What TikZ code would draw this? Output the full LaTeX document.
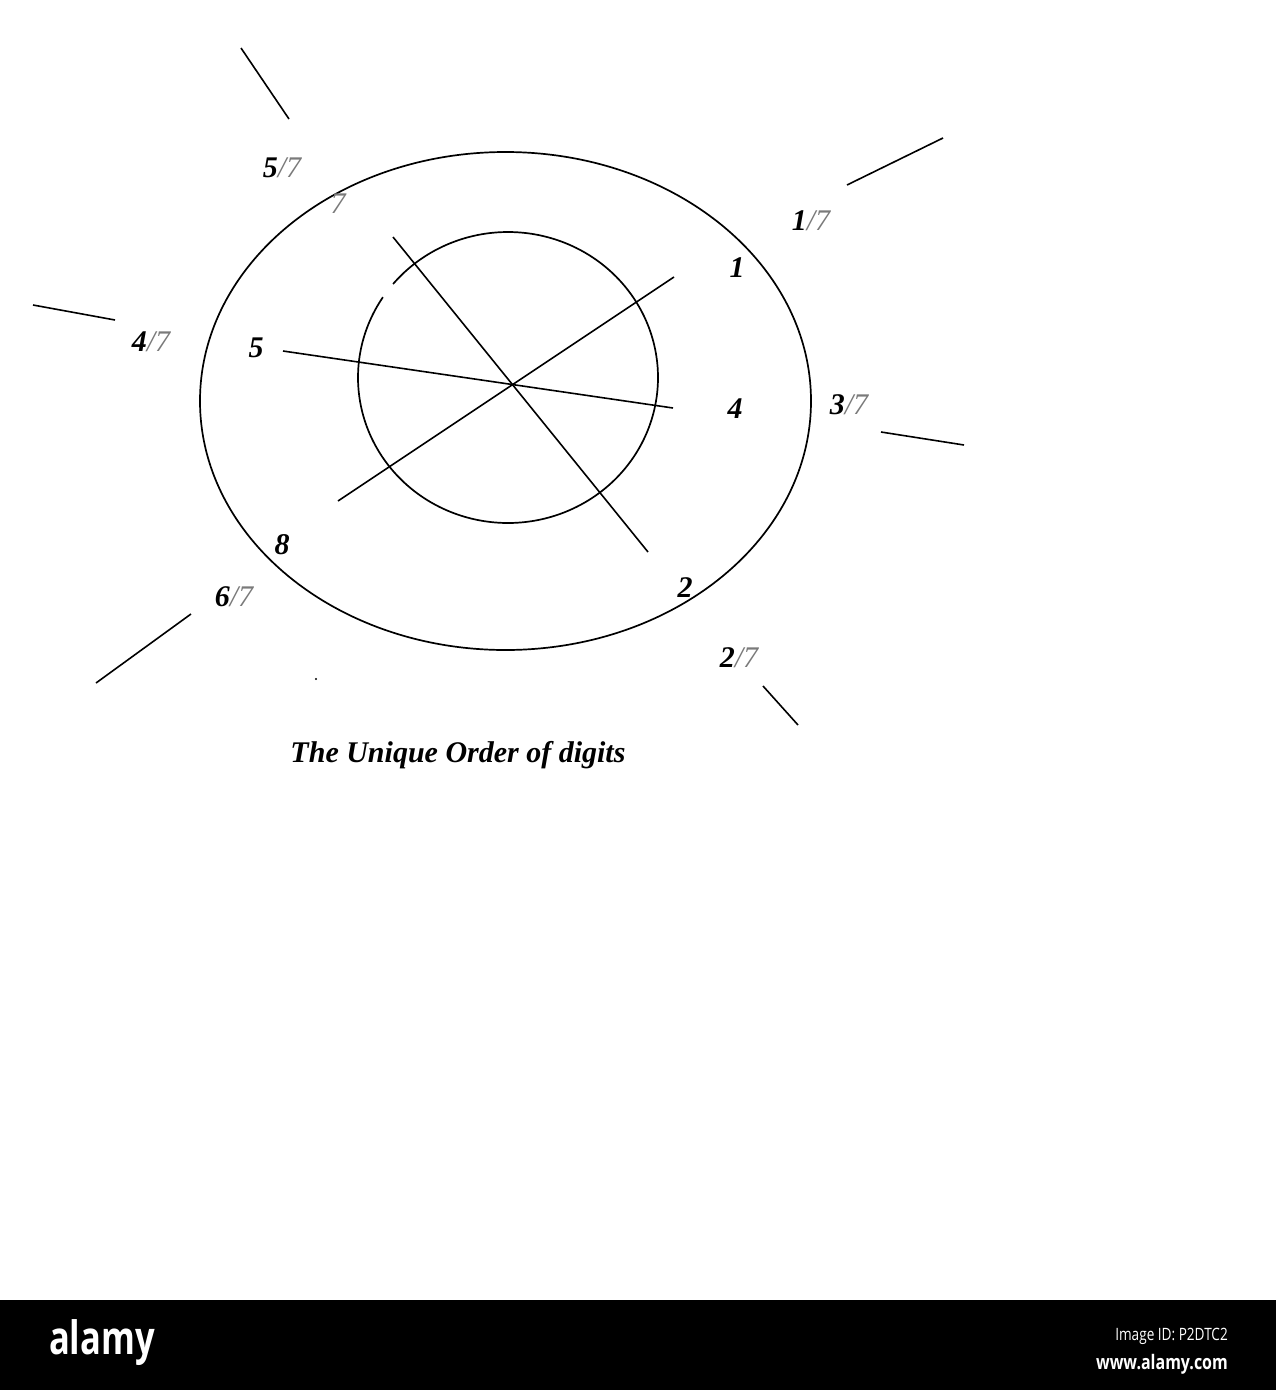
\documentclass[tikz,border=0pt]{standalone}
\usepackage{fontspec}
\setmainfont{Liberation Serif}
\newfontfamily\wmfont{Open Sans}
\definecolor{fracgray}{HTML}{7A7A7A}
\newcommand\frlab[1]{\textbf{#1}\textcolor{fracgray}{\/\textmd{/7}}}
\tikzset{
  shape line/.style={line width=1.7pt, black},
  ray/.style={line width=1.6pt, black},
  lab/.style={inner sep=0pt, font=\fontsize{30}{32}\selectfont\itshape},
  digit/.style={inner sep=0pt, font=\fontsize{30}{32}\selectfont\bfseries\itshape},
}
\begin{document}
\begin{tikzpicture}[x=1pt,y=-1pt]
\useasboundingbox (0,0) rectangle (1276,1390);
\fill[white] (0,0) rectangle (1276,1390);
% outer ellipse
\draw[shape line] (505.5,401) ellipse [x radius=305.5, y radius=249];
% inner circle with small gap
\draw[shape line] plot[domain=146.5:500, samples=240, smooth] ({508+150*cos(\x)}, {377.5-145.5*sin(\x)});
% lines through centre
\coordinate (a1) at (283,351); \coordinate (a2) at (673,408);
\coordinate (b1) at (393,237); \coordinate (b2) at (648,552);
\coordinate (c1) at (338,501); \coordinate (c2) at (674,277);
\draw[ray] (a1) -- (a2);
\draw[ray] (b1) -- (b2);
\draw[ray] (c1) -- (c2);
% outer short rays
\coordinate (r1a) at (241,48);  \coordinate (r1b) at (289,119);
\coordinate (r2a) at (847,185); \coordinate (r2b) at (943,138);
\coordinate (r3a) at (33,305);  \coordinate (r3b) at (115,320);
\coordinate (r4a) at (881,432); \coordinate (r4b) at (964,445);
\coordinate (r5a) at (96,683);  \coordinate (r5b) at (191,614);
\coordinate (r6a) at (763,686); \coordinate (r6b) at (798,725);
\draw[ray] (r1a) -- (r1b);
\draw[ray] (r2a) -- (r2b);
\draw[ray] (r3a) -- (r3b);
\draw[ray] (r4a) -- (r4b);
\draw[ray] (r5a) -- (r5b);
\draw[ray] (r6a) -- (r6b);
\fill (316,679) circle (1.1);
% fraction labels
\node[lab] (f5) at (282,168) {\frlab{5}};
\node[lab] (f1) at (811,221) {\frlab{1}};
\node[lab] (f4) at (151,342) {\frlab{4}};
\node[lab] (f3) at (849,405) {\frlab{3}};
\node[lab] (f6) at (234,597) {\frlab{6}};
\node[lab] (f2) at (739,658) {\frlab{2}};
% digit labels
\node[lab, text=fracgray] (d7) at (338,204) {7};
\node[digit] (d1) at (737,268) {1};
\node[digit] (d5) at (256,348) {5};
\node[digit] (d4) at (735,409) {4};
\node[digit] (d8) at (282,545) {8};
\node[digit] (d2) at (685,588) {2};
% title
\node[digit, font=\fontsize{30}{32}\selectfont\bfseries\itshape] (title) at (458,755) {The Unique Order of digits};
% watermark bar
\fill[black] (0,1300) rectangle (1276,1390);
\node[inner sep=0pt, text=white, font=\wmfont\fontsize{46}{46}\selectfont\bfseries, xscale=0.75] (alamy) at (102,1343) {alamy};
\node[inner sep=0pt, text=white, anchor=east, font=\wmfont\fontsize{17}{18}\selectfont, xscale=0.8] (imgid) at (1228,1336) {Image ID: P2DTC2};
\node[inner sep=0pt, text=white, anchor=east, font=\wmfont\fontsize{20}{22}\selectfont\bfseries, xscale=0.8] (www) at (1228,1364) {www.alamy.com};
\end{tikzpicture}
\end{document}
